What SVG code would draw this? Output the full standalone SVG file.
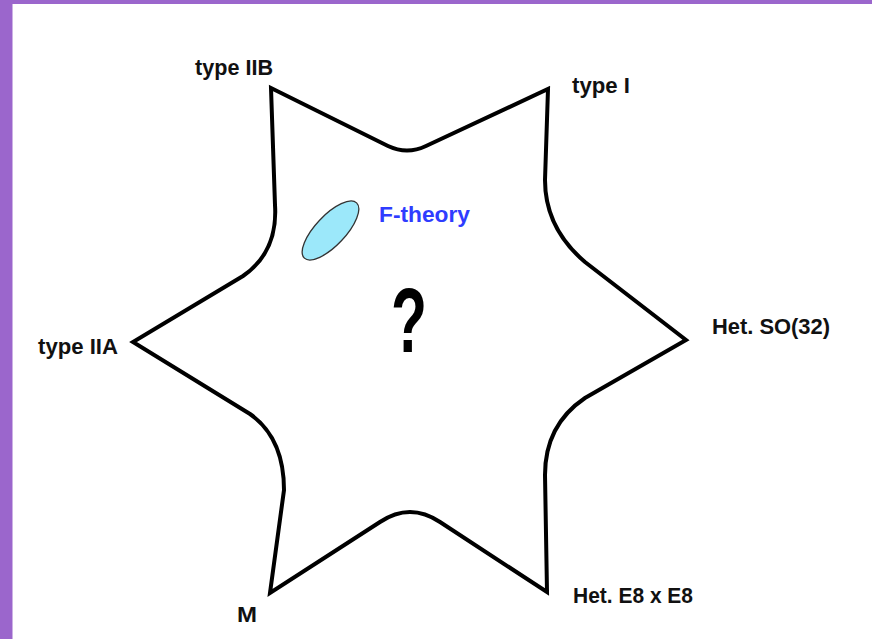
<svg xmlns="http://www.w3.org/2000/svg" width="872" height="639" viewBox="0 0 872 639">
<style>
.lbl{font-family:"Liberation Sans",Arial,sans-serif;font-weight:bold;font-size:22px;fill:#111}
.star{fill:#fff;stroke:#000;stroke-width:4;stroke-linejoin:miter}
</style>
<rect width="872" height="639" fill="#fff"/>
<rect x="0" y="0" width="872" height="4" fill="#9b66cc"/>
<rect x="0" y="0" width="12.5" height="639" fill="#9b66cc"/>
<g id="star">
<path class="star" d="M271 88 L388 146 Q407 155 426 146 L548 89 L545 180 Q545 228 585 262 L686 340 L585 398 Q545 425 545 475 L547 592 L440 522 Q410 502 380 522 L270 593 L284 490 Q284 438 250 414 L133 342 L243 276 Q278 252 275 205 Z"/>
</g>
<g id="ftheory">
<ellipse cx="330.5" cy="230.5" rx="38" ry="15" transform="rotate(-46.6 330.5 230.5)" fill="#9ce8fa" stroke="#333" stroke-width="1.3"/>
<text x="379" y="222" font-family="'Liberation Sans',Arial,sans-serif" font-weight="bold" font-size="22" fill="#2f3cff" textLength="91" lengthAdjust="spacingAndGlyphs">F-theory</text>
</g>
<g id="question">
<text x="391" y="352" font-family="'Liberation Sans',Arial,sans-serif" font-weight="bold" font-size="90" fill="#000" textLength="36" lengthAdjust="spacingAndGlyphs">?</text>
</g>
<g id="typeIIB"><text class="lbl" x="195" y="75" textLength="78" lengthAdjust="spacingAndGlyphs">type IIB</text></g>
<g id="typeI"><text class="lbl" x="572" y="93" textLength="58" lengthAdjust="spacingAndGlyphs">type I</text></g>
<g id="typeIIA"><text class="lbl" x="38" y="354" textLength="80" lengthAdjust="spacingAndGlyphs">type IIA</text></g>
<g id="hetSO32"><text class="lbl" x="712" y="334" textLength="118" lengthAdjust="spacingAndGlyphs">Het. SO(32)</text></g>
<g id="M"><text class="lbl" x="237" y="622" textLength="20" lengthAdjust="spacingAndGlyphs">M</text></g>
<g id="hetE8"><text class="lbl" x="573" y="603" textLength="120" lengthAdjust="spacingAndGlyphs">Het. E8 x E8</text></g>
<g id="connectors"></g>
</svg>
